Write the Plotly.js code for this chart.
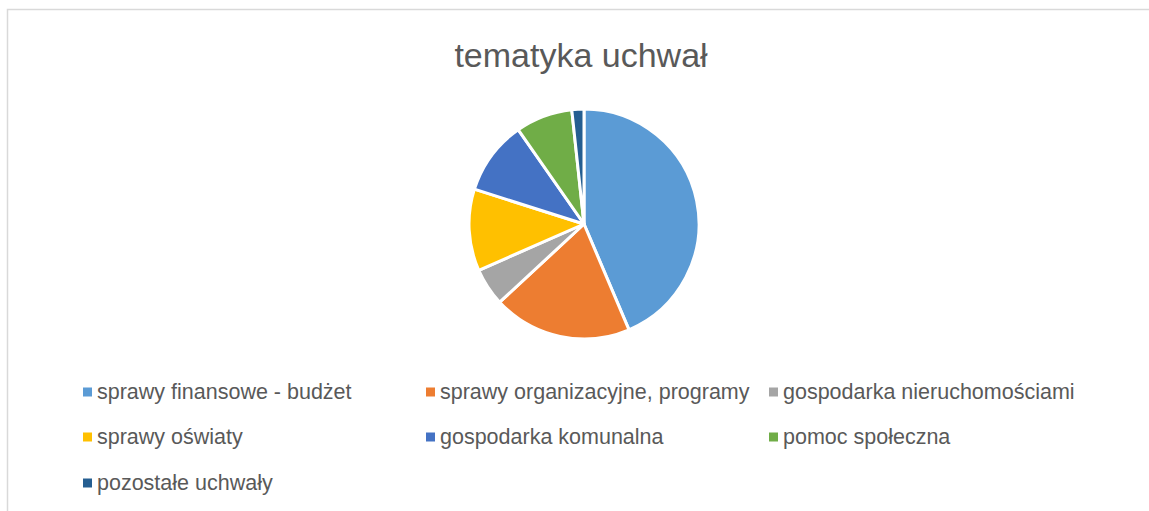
<!DOCTYPE html>
<html>
<head>
<meta charset="utf-8">
<script src="https://cdn.plot.ly/plotly-3.0.1.min.js"></script>
<style>html,body{margin:0;padding:0;background:#fff;}#chart{width:1149px;height:511px;}</style>
</head>
<body>
<div id="chart"></div>
<script>
var categories = ["sprawy finansowe - budżet", "sprawy organizacyjne, programy", "gospodarka nieruchomościami", "sprawy oświaty", "gospodarka komunalna", "pomoc społeczna", "pozostałe uchwały"];
var values = [43.6, 19.5, 5.3, 11.5, 10.4, 8.0, 1.7];
var colors = ["#5B9BD5", "#ED7D31", "#A5A5A5", "#FFC000", "#4472C4", "#70AD47", "#255E91"];
var chartTitle = "tematyka uchwał";

var W = 1149, H = 511;
function px(x){ return x / W; }
function py(y){ return 1 - y / H; }

var cx = 584, cy = 224, r = 115;

var trace = {
  type: "pie",
  labels: categories,
  values: values,
  sort: false,
  direction: "clockwise",
  rotation: 0,
  textinfo: "none",
  hoverinfo: "label+percent",
  marker: {colors: colors, line: {color: "#ffffff", width: 3}},
  domain: {x: [px(cx - r), px(cx + r)], y: [py(cy + r), py(cy - r)]},
  showlegend: false
};

// legend layout (3 columns)
var colText = [97, 440, 783];
var rowY = [392, 437, 483];
var annotations = [];
var shapes = [];
categories.forEach(function(c, i){
  var col = i % 3, row = Math.floor(i / 3);
  var tx = colText[col], ty = rowY[row];
  annotations.push({
    text: c, xref: "paper", yref: "paper", x: px(tx - 2), y: py(ty),
    xanchor: "left", yanchor: "middle", showarrow: false,
    font: {family: "Liberation Sans, Arial, sans-serif", size: 21.5, color: "#595959"}
  });
  shapes.push({
    type: "rect", xref: "paper", yref: "paper",
    x0: px(tx - 14), x1: px(tx - 5), y0: py(ty + 4.5), y1: py(ty - 4.5),
    fillcolor: colors[i], line: {width: 0}
  });
});
// chart area border
shapes.push({
  type: "rect", xref: "paper", yref: "paper",
  x0: px(7.5), x1: px(1160), y0: py(530), y1: py(9.5),
  fillcolor: "rgba(0,0,0,0)", line: {color: "#d9d9d9", width: 1.5}
});

var layout = {
  width: W, height: H,
  margin: {l: 0, r: 0, t: 0, b: 0},
  paper_bgcolor: "#ffffff",
  title: {text: chartTitle, x: px(581), xanchor: "center", y: py(55), yanchor: "middle", yref: "container",
          font: {family: "Liberation Sans, Arial, sans-serif", size: 34, color: "#595959"}},
  showlegend: false,
  annotations: annotations,
  shapes: shapes
};

Plotly.newPlot("chart", [trace], layout, {displayModeBar: false, staticPlot: true});
</script>
</body>
</html>
